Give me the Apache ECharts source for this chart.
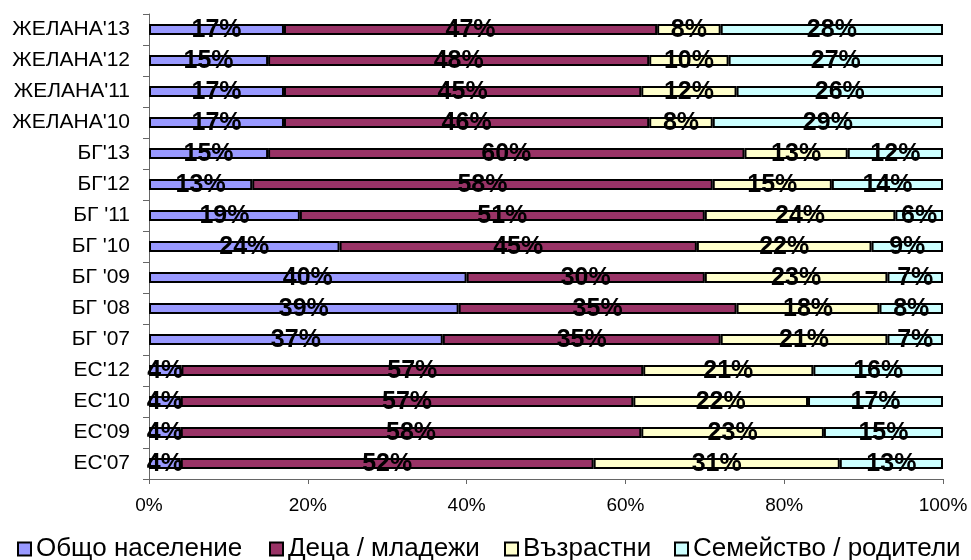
<!DOCTYPE html>
<html>
<head>
<meta charset="utf-8">
<script src="https://cdn.jsdelivr.net/npm/echarts@6/dist/echarts.min.js"></script>
<style>
html,body{margin:0;padding:0;background:#fff;}
#chart{width:971px;height:560px;}
</style>
</head>
<body>
<div id="chart"></div>
<script>
// Categories, top to bottom
const categories = ["ЖЕЛАНА'13","ЖЕЛАНА'12","ЖЕЛАНА'11","ЖЕЛАНА'10","БГ'13","БГ'12","БГ '11","БГ '10","БГ '09","БГ '08","БГ '07","ЕС'12","ЕС'10","ЕС'09","ЕС'07"];
const seriesNames = ["Общо население","Деца / младежи","Възрастни","Семейство / родители"];
const generalPop   = [17,15,17,17,15,13,19,24,40,39,37,4,4,4,4];
const youth        = [47,48,45,46,60,58,51,45,30,35,35,57,57,58,52];
const elderly      = [8,10,12,8,13,15,24,22,23,18,21,21,22,23,31];
const families     = [28,27,26,29,12,14,6,9,7,8,7,16,17,15,13];
const xTicks = [0,20,40,60,80,100];

const colors = ['#9999FF','#993366','#FFFFCC','#CCFFFF'];
const raw = [generalPop, youth, elderly, families];
const totals = categories.map((c,i)=> raw.reduce((s,a)=>s+a[i],0));

const FONT = "'Liberation Sans', Arial, sans-serif";

const series = raw.map((arr,k)=>({
  name: seriesNames[k],
  type: 'bar',
  stack: 'total',
  barWidth: 11,
  itemStyle: {color: colors[k], borderColor: '#000', borderWidth: 2},
  label: {
    show: true,
    position: 'inside',
    color: '#000',
    fontFamily: FONT,
    fontWeight: 'bold',
    fontSize: 25,
    offset: [0, 1],
    formatter: p => raw[k][p.dataIndex] + '%'
  },
  emphasis: {disabled: true},
  data: arr.map((v,i)=> v / totals[i] * 100)
}));

const legendLefts = [17, 269, 504, 674];
const legends = seriesNames.map((n,k)=>({
  left: legendLefts[k],
  top: 536,
  padding: 0,
  itemWidth: 13,
  itemHeight: 13,
  icon: 'rect',
  itemStyle: {borderColor: '#000', borderWidth: 2},
  textStyle: {fontFamily: FONT, fontSize: 26, color: '#000'},
  selectedMode: false,
  data: [n]
}));

const chart = echarts.init(document.getElementById('chart'), null, {renderer:'canvas'});
chart.setOption({
  animation: false,
  backgroundColor: '#fff',
  color: colors,
  grid: {left: 149, right: 28, top: 14, bottom: 81, containLabel: false},
  legend: legends,
  xAxis: {
    type: 'value',
    min: 0, max: 100, interval: 20,
    splitLine: {show: false},
    axisLine: {show: true, lineStyle: {color: '#666', width: 1}},
    axisTick: {show: true, length: 5, lineStyle: {color: '#666'}},
    axisLabel: {
      margin: 17,
      fontFamily: FONT, fontSize: 19, color: '#000',
      formatter: v => (xTicks.indexOf(v) >= 0 ? v + '%' : '')
    }
  },
  yAxis: {
    type: 'category',
    inverse: true,
    data: categories,
    axisLine: {show: true, lineStyle: {color: '#666', width: 1}},
    axisTick: {show: true, length: 6, lineStyle: {color: '#666'}},
    axisLabel: {margin: 19, fontFamily: FONT, fontSize: 21, color: '#000'}
  },
  series: series
});
</script>
</body>
</html>
